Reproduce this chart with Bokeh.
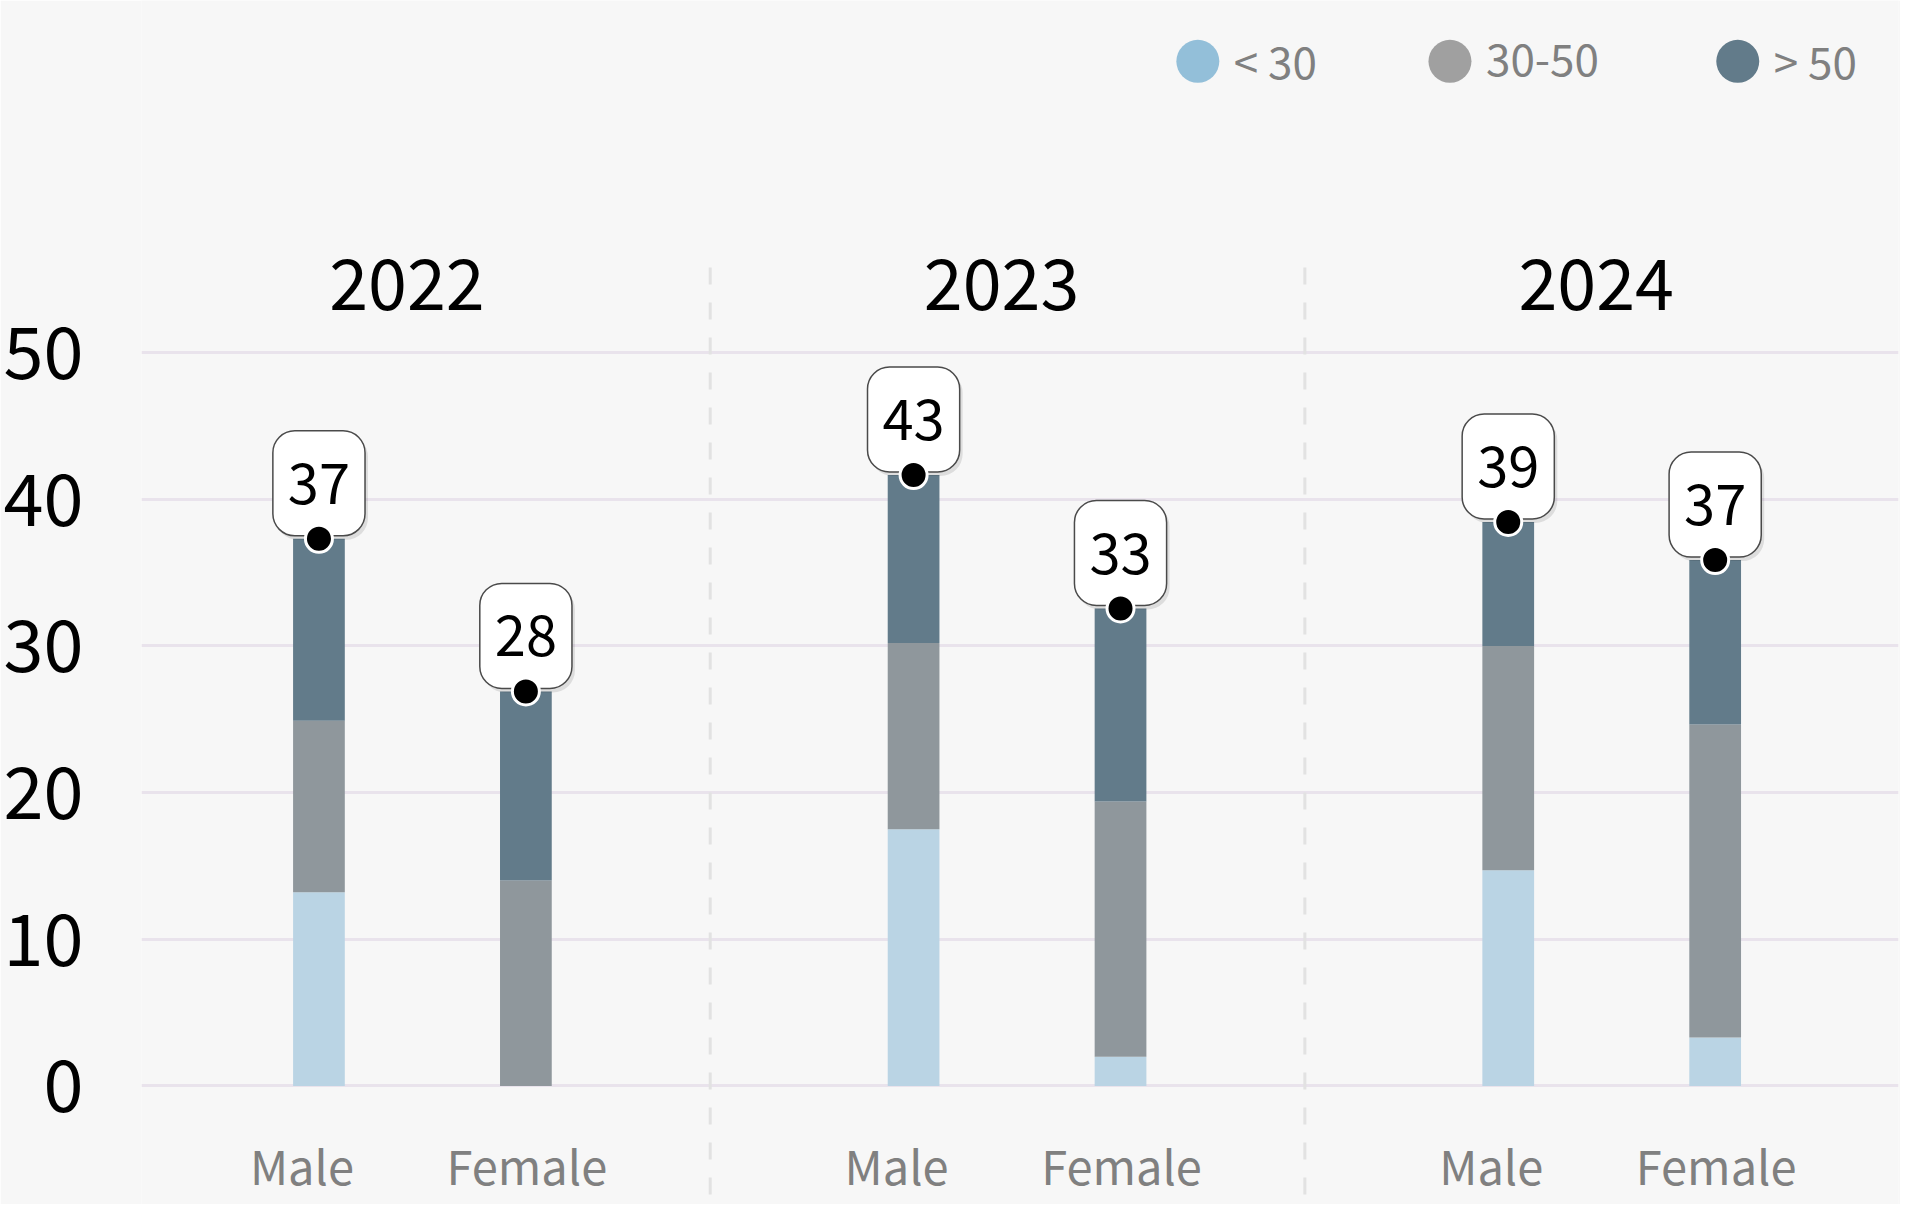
from bokeh.plotting import figure
from bokeh.models import ColumnDataSource, Range1d, FixedTicker
from bokeh.embed import file_html
from bokeh.resources import INLINE

# data
years = ["2022", "2023", "2024"]
genders = ["Male", "Female"]
under30 = [13.2, 0.0, 17.5, 2.0, 14.7, 3.3]
mid30_50 = [11.7, 14.0, 12.7, 17.4, 15.3, 21.35]
over50 = [12.4, 12.9, 11.45, 13.15, 8.45, 11.2]
shown_totals = [37, 28, 43, 33, 39, 37]
series = ["< 30", "30-50", "> 50"]
y_ticks = [0, 10, 20, 30, 40, 50]

bar_colors = ["#bad4e4", "#8f979c", "#627b8a"]
legend_colors = ["#93bfd9", "#a0a0a0", "#627b8a"]
FONT = "Noto Sans CJK JP"

gender_pos = {"Male": 0.342, "Female": 0.69}
gender_shift = {"Male": -17, "Female": 1}

xs, tops, labels, names, name_shift = [], [], [], [], []
i = 0
for g, yr in enumerate(years):
    for gd in genders:
        xs.append(g + gender_pos[gd])
        tops.append(under30[i] + mid30_50[i] + over50[i])
        labels.append(str(shown_totals[i]))
        names.append(gd)
        name_shift.append(gender_shift[gd])
        i += 1

src = ColumnDataSource(dict(x=xs, young=under30, mid=mid30_50, old=over50,
                            top=tops, label=labels, name=names, shift=name_shift))

p = figure(width=1900, height=1204, output_backend="svg", toolbar_location=None,
           x_range=Range1d(0.0436, 2.9983), y_range=Range1d(-8.08, 74.0),
           min_border_left=134, min_border_right=2, min_border_top=0, min_border_bottom=0)
p.background_fill_color = "#f7f7f7"
p.border_fill_color = "#f7f7f7"
p.outline_line_color = None

p.xaxis.visible = False
p.xgrid.visible = False
p.yaxis.ticker = FixedTicker(ticks=y_ticks)
p.yaxis.axis_line_color = None
p.yaxis.major_tick_line_color = None
p.yaxis.minor_tick_line_color = None
p.yaxis.major_label_standoff = 52
p.yaxis.major_label_text_font = FONT
p.yaxis.major_label_text_font_size = "72px"
p.yaxis.major_label_text_color = "#000000"
p.ygrid.ticker = FixedTicker(ticks=y_ticks)
p.ygrid.grid_line_color = "#e9e3ec"
p.ygrid.grid_line_width = 3

# group separators
seps = list(range(1, len(years)))
p.segment(x0=seps, x1=seps, y0=[-7.4] * len(seps), y1=[56.9] * len(seps),
          line_color="#e2e2e2", line_width=3, line_dash="17 18")

p.vbar_stack(["young", "mid", "old"], x="x", width=0.087, source=src,
             fill_color=bar_colors, line_color=None)

# label boxes (shadow first)
box = dict(anchor="bottom_center", text_font_size="56px", text_font={"value": FONT},
           padding=(15, 32), border_radius=22)
p.text(x="x", y="top", text="label", source=src, x_offset=3, y_offset=1, text_alpha=0,
       background_fill_color="#000000", background_fill_alpha=0.10, **box)
p.text(x="x", y="top", text="label", source=src, y_offset=-3, text_color="#000000",
       background_fill_color="#ffffff", border_line_color="#4a4a4a",
       border_line_width=1.5, **box)
p.scatter(x="x", y="top", source=src, size=27, fill_color="#000000",
          line_color="#ffffff", line_width=3)

# category labels
p.text(x="x", y=-5.35, text="name", source=src, x_offset="shift", text_align="center",
       text_baseline="middle", text_color="#808080", text_font_size="47px",
       text_font={"value": FONT})
p.text(x=[g + 0.5 for g in range(len(years))], y=[54.64] * len(years), text=years,
       x_offset=-6, text_align="center", text_baseline="middle", text_color="#000000",
       text_font_size="70px", text_font={"value": FONT})

# legend
leg_x = [1.82, 2.244, 2.728]
leg_y = [69.85] * len(series)
p.scatter(x=leg_x, y=leg_y, size=43, fill_color=legend_colors, line_color=None)
p.text(x=leg_x, y=[69.95] * len(series), text=series, x_offset=36, text_align="left",
       text_baseline="middle", text_color="#808080", text_font_size="44px",
       text_font={"value": FONT})

open("out.html", "w").write(file_html(p, INLINE))
